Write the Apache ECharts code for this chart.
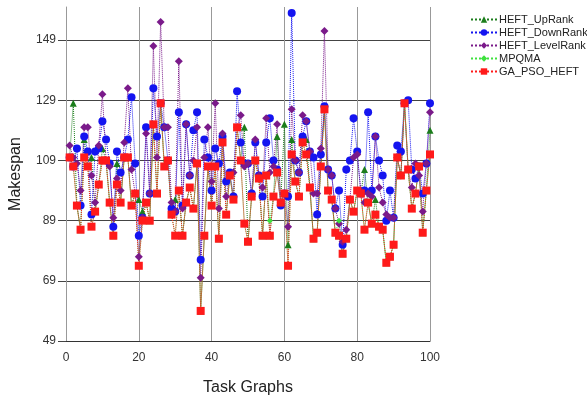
<!DOCTYPE html>
<html>
<head>
<meta charset="utf-8">
<script src="https://cdn.jsdelivr.net/npm/echarts@6/dist/echarts.min.js"></script>
<style>
	html, body { margin: 0; padding: 0; background: #ffffff; }
	#chart { width: 587px; height: 401px; }
</style>
</head>
<body>
<div id="chart"></div>
<script>
// 任务图编号
var taskIds = [1, 2, 3, 4, 5, 6, 7, 8, 9, 10, 11, 12, 13, 14, 15, 16, 17, 18, 19, 20,
	21, 22, 23, 24, 25, 26, 27, 28, 29, 30, 31, 32, 33, 34, 35, 36, 37, 38, 39, 40,
	41, 42, 43, 44, 45, 46, 47, 48, 49, 50, 51, 52, 53, 54, 55, 56, 57, 58, 59, 60,
	61, 62, 63, 64, 65, 66, 67, 68, 69, 70, 71, 72, 73, 74, 75, 76, 77, 78, 79, 80,
	81, 82, 83, 84, 85, 86, 87, 88, 89, 90, 91, 92, 93, 94, 95, 96, 97, 98, 99, 100];

var seriesNames = ['HEFT_UpRank', 'HEFT_DownRank', 'HEFT_LevelRank', 'MPQMA', 'GA_PSO_HEFT'];

// 各算法的 makespan
var upRank = [110, 128, 94, 86, 116, 107, 110, 92, 101, 113, 109, 95, 84, 108, 95, 110, 110, 94, 98, 96,
	92, 95, 89, 121, 98, 128, 107, 109, 91, 96, 99, 84, 95, 100, 93, 108, 59, 84, 107, 94,
	107, 83, 115, 91, 104, 96, 120, 109, 120, 82, 97, 109, 103, 84, 104, 84, 97, 117, 95, 121,
	81, 116, 102, 97, 115, 116, 100, 83, 85, 107, 126, 99, 96, 85, 84, 78, 83, 96, 92, 99,
	98, 106, 95, 88, 96, 87, 86, 75, 77, 81, 110, 104, 128, 106, 93, 98, 107, 85, 99, 119];
var downRank = [110, 107, 113, 94, 117, 112, 91, 112, 113, 122, 116, 108, 87, 112, 105, 110, 116, 130, 108, 84,
	90, 120, 98, 133, 117, 128, 120, 109, 93, 92, 125, 94, 121, 104, 119, 125, 76, 116, 110, 99,
	113, 108, 117, 102, 105, 97, 132, 115, 108, 108, 98, 115, 104, 97, 115, 123, 109, 106, 94, 98,
	97, 158, 109, 105, 117, 122, 112, 110, 91, 111, 127, 106, 104, 93, 99, 81, 106, 109, 123, 112,
	98, 99, 125, 99, 117, 109, 104, 89, 99, 90, 114, 112, 128, 129, 106, 103, 107, 98, 108, 128];
var levelRank = [114, 110, 108, 99, 120, 120, 104, 95, 114, 131, 109, 107, 90, 103, 99, 115, 133, 106, 98, 77,
	90, 118, 98, 147, 110, 155, 120, 120, 95, 92, 142, 93, 121, 104, 109, 120, 70, 110, 120, 102,
	128, 93, 118, 97, 104, 105, 120, 124, 107, 108, 97, 116, 104, 100, 123, 105, 107, 121, 95, 98,
	87, 126, 109, 105, 124, 122, 112, 98, 98, 113, 152, 106, 104, 93, 88, 82, 86, 96, 110, 111,
	99, 95, 98, 97, 117, 100, 95, 91, 90, 90, 110, 104, 128, 106, 100, 108, 104, 92, 108, 125];
var mpqma = [110, 107, 94, 86, 110, 107, 87, 92, 101, 109, 109, 95, 84, 101, 95, 110, 110, 94, 98, 74,
	89, 95, 89, 121, 98, 128, 107, 109, 91, 84, 99, 84, 95, 100, 93, 108, 59, 84, 107, 94,
	107, 83, 115, 91, 104, 96, 120, 109, 88, 82, 97, 109, 103, 84, 104, 89, 97, 105, 95, 98,
	74, 111, 102, 97, 115, 111, 100, 83, 85, 107, 126, 99, 96, 85, 89, 78, 83, 96, 92, 99,
	98, 86, 95, 88, 91, 87, 86, 75, 77, 81, 110, 104, 128, 106, 93, 98, 107, 85, 99, 111];
var gaPso = [110, 107, 94, 86, 110, 107, 87, 92, 101, 109, 109, 95, 84, 101, 95, 110, 110, 94, 98, 74,
	89, 95, 89, 121, 98, 128, 107, 109, 91, 84, 99, 84, 95, 100, 93, 108, 59, 84, 107, 94,
	107, 83, 115, 91, 104, 96, 120, 109, 88, 82, 97, 109, 103, 84, 104, 84, 97, 105, 95, 98,
	74, 111, 102, 97, 115, 111, 100, 83, 85, 107, 126, 99, 96, 85, 84, 78, 83, 96, 92, 99,
	98, 86, 95, 88, 91, 87, 86, 75, 77, 81, 110, 104, 128, 106, 93, 98, 107, 85, 99, 111];

var yTicks = [49, 69, 89, 109, 129, 149];

var colors = ['#1b7d1b', '#1414f0', '#7a1a8a', '#3ee23e', '#ff1a1a'];
var symbols = ['triangle', 'circle', 'diamond', 'diamond', 'rect'];
var symbolSizes = [7, 8, 8, 6, 8];
var allData = [upRank, downRank, levelRank, mpqma, gaPso];

var myChart = echarts.init(document.getElementById('chart'));

// 组装 [x, y] 数据
function pairs(values) {
	var out = [];
	for (var i = 0; i < values.length; i++) {
		out.push([taskIds[i], values[i]]);
	}
	return out;
}

var series = [];
for (var s = 0; s < seriesNames.length; s++) {
	series.push({
		name: seriesNames[s],
		type: 'line',
		data: pairs(allData[s]),
		symbol: symbols[s],
		symbolSize: symbolSizes[s],
		showAllSymbol: true,
		animation: false,
		itemStyle: { color: colors[s] },
		lineStyle: { color: colors[s], width: 1, type: 'dotted' }
	});
}

var option = {
	textStyle: { fontFamily: 'Liberation Sans, Arial, sans-serif' },
	grid: {
		left: 66,
		right: 157,
		top: 7,
		bottom: 57
	},
	legend: {
		orient: 'vertical',
		left: 465,
		top: 9,
		itemGap: 2,
		itemWidth: 26,
		itemHeight: 8,
		data: seriesNames,
		textStyle: { color: '#222', fontSize: 11, padding: [0, 0, 0, -3] }
	},
	xAxis: {
		type: 'value',
		min: 0,
		max: 100,
		interval: 20,
		name: 'Task Graphs',
		nameLocation: 'middle',
		nameGap: 39,
		nameTextStyle: { color: '#222', fontSize: 16 },
		axisLine: { lineStyle: { color: '#333', width: 1 } },
		axisTick: { show: false },
		axisLabel: { color: '#333', fontSize: 12, margin: 11 },
		splitLine: { lineStyle: { color: '#999', width: 1 } }
	},
	yAxis: {
		type: 'value',
		min: yTicks[0],
		max: 160,
		interval: 20,
		name: 'Makespan',
		nameLocation: 'middle',
		nameGap: 42,
		nameTextStyle: { color: '#222', fontSize: 16 },
		axisLine: { show: true, lineStyle: { color: '#999', width: 1 } },
		axisTick: { show: true, length: 8, lineStyle: { color: '#444' } },
		axisLabel: { color: '#333', fontSize: 12, margin: 10, showMaxLabel: false },
		splitLine: { showMaxLine: false, lineStyle: { color: '#444', width: 1 } }
	},
	series: series
};
myChart.setOption(option);
</script>
</body>
</html>
